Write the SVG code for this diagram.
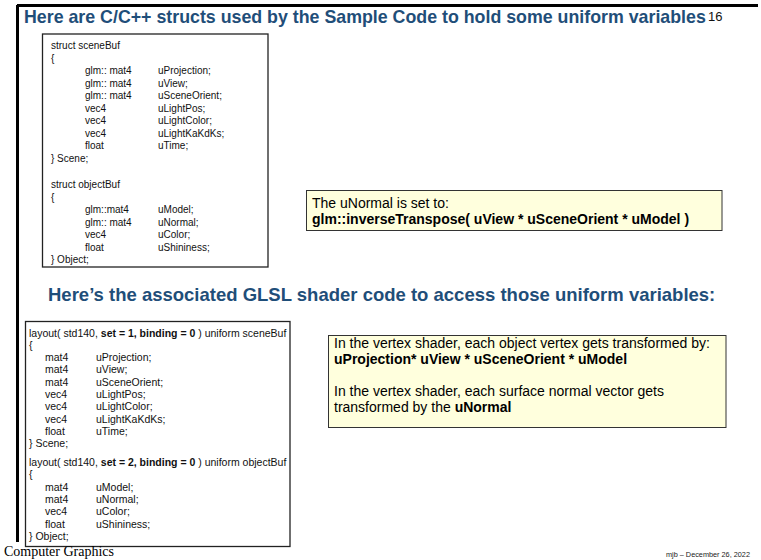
<svg xmlns="http://www.w3.org/2000/svg" width="761" height="560" viewBox="0 0 761 560">
  <style>
    .title { font-family: "Liberation Sans", Arial, sans-serif; font-weight: bold; fill: #1F4E79; }
    .code { font-family: "Liberation Sans", Arial, sans-serif; font-size: 10px; fill: #111; }
    .glsl { font-family: "Liberation Sans", Arial, sans-serif; font-size: 10.5px; fill: #111; }
    .note { font-family: "Liberation Sans", Arial, sans-serif; font-size: 14px; fill: #000; }
    .b { font-weight: bold; }
    .codebox { fill: #fff; stroke: #222; stroke-width: 1.3; }
    .notebox { fill: #FFFFDD; stroke: #333; stroke-width: 1; }
  </style>

  <rect width="761" height="560" fill="#fff"/>

  <!-- slide frame: top and left rule -->
  <path d="M17 5.5 H758 M17.5 5 V542" stroke="#000" stroke-width="3" fill="none"/>

  <text class="title" x="24" y="23" font-size="17.8">Here are C/C++ structs used by the Sample Code to hold some uniform variables</text>
  <text x="708" y="21" font-family="Liberation Sans, Arial, sans-serif" font-size="13" fill="#111">16</text>

  <!-- C/C++ struct listing -->
  <g id="cpp-structs">
    <rect class="codebox" x="42.5" y="34" width="225.5" height="233"/>
    <g class="code">
      <text x="51" y="49">struct sceneBuf</text>
      <text x="51" y="61.5">{</text>
      <text x="85" y="74">glm:: mat4</text><text x="158" y="74">uProjection;</text>
      <text x="85" y="86.5">glm:: mat4</text><text x="158" y="86.5">uView;</text>
      <text x="85" y="99">glm:: mat4</text><text x="158" y="99">uSceneOrient;</text>
      <text x="85" y="111.5">vec4</text><text x="158" y="111.5">uLightPos;</text>
      <text x="85" y="124">vec4</text><text x="158" y="124">uLightColor;</text>
      <text x="85" y="136.5">vec4</text><text x="158" y="136.5">uLightKaKdKs;</text>
      <text x="85" y="149">float</text><text x="158" y="149">uTime;</text>
      <text x="51" y="161.5">} Scene;</text>
      <text x="51" y="188">struct objectBuf</text>
      <text x="51" y="200.5">{</text>
      <text x="85" y="213">glm::mat4</text><text x="158" y="213">uModel;</text>
      <text x="85" y="225.5">glm:: mat4</text><text x="158" y="225.5">uNormal;</text>
      <text x="85" y="238">vec4</text><text x="158" y="238">uColor;</text>
      <text x="85" y="250.5">float</text><text x="158" y="250.5">uShininess;</text>
      <text x="51" y="263">} Object;</text>
    </g>
  </g>

  <!-- uNormal note -->
  <g id="normal-note">
    <rect class="notebox" x="306.5" y="190.5" width="415.5" height="40"/>
    <text class="note" x="312" y="208">The uNormal is set to:</text>
    <text class="note b" x="312" y="224">glm::inverseTranspose(  uView * uSceneOrient * uModel )</text>
  </g>

  <text class="title" x="48" y="301" font-size="18.5">Here’s the associated GLSL shader code to access those uniform variables:</text>

  <!-- GLSL uniform block listing -->
  <g id="glsl-blocks">
    <rect class="codebox" x="25.5" y="321.5" width="264.5" height="225"/>
    <g class="glsl">
      <text x="29" y="336.5">layout( std140, <tspan class="b">set = 1, binding = 0</tspan> ) uniform sceneBuf</text>
      <text x="29" y="348.8">{</text>
      <text x="45" y="361.1">mat4</text><text x="96" y="361.1">uProjection;</text>
      <text x="45" y="373.4">mat4</text><text x="96" y="373.4">uView;</text>
      <text x="45" y="385.7">mat4</text><text x="96" y="385.7">uSceneOrient;</text>
      <text x="45" y="398">vec4</text><text x="96" y="398">uLightPos;</text>
      <text x="45" y="410.3">vec4</text><text x="96" y="410.3">uLightColor;</text>
      <text x="45" y="422.6">vec4</text><text x="96" y="422.6">uLightKaKdKs;</text>
      <text x="45" y="434.9">float</text><text x="96" y="434.9">uTime;</text>
      <text x="29" y="447.2">} Scene;</text>
      <text x="29" y="466">layout( std140, <tspan class="b">set = 2, binding = 0</tspan> ) uniform objectBuf</text>
      <text x="29" y="478.3">{</text>
      <text x="45" y="490.6">mat4</text><text x="96" y="490.6">uModel;</text>
      <text x="45" y="502.9">mat4</text><text x="96" y="502.9">uNormal;</text>
      <text x="45" y="515.2">vec4</text><text x="96" y="515.2">uColor;</text>
      <text x="45" y="527.5">float</text><text x="96" y="527.5">uShininess;</text>
      <text x="29" y="539.8">} Object;</text>
    </g>
  </g>

  <!-- transformation note -->
  <g id="transform-note">
    <rect class="notebox" x="328.5" y="335.5" width="397.5" height="92"/>
    <text class="note" x="334" y="348">In the vertex shader, each object vertex gets transformed by:</text>
    <text class="note b" x="334" y="364">uProjection*  uView * uSceneOrient * uModel</text>
    <text class="note" x="334" y="396">In the vertex shader, each surface normal vector gets</text>
    <text class="note" x="334" y="412">transformed by the <tspan class="b">uNormal</tspan></text>
  </g>

  <text x="4" y="556" font-family="Liberation Serif, 'Times New Roman', serif" font-size="14" fill="#000">Computer Graphics</text>
  <text x="666" y="556.5" font-family="Liberation Sans, Arial, sans-serif" font-size="7.3" fill="#222">mjb – December 26, 2022</text>
</svg>
